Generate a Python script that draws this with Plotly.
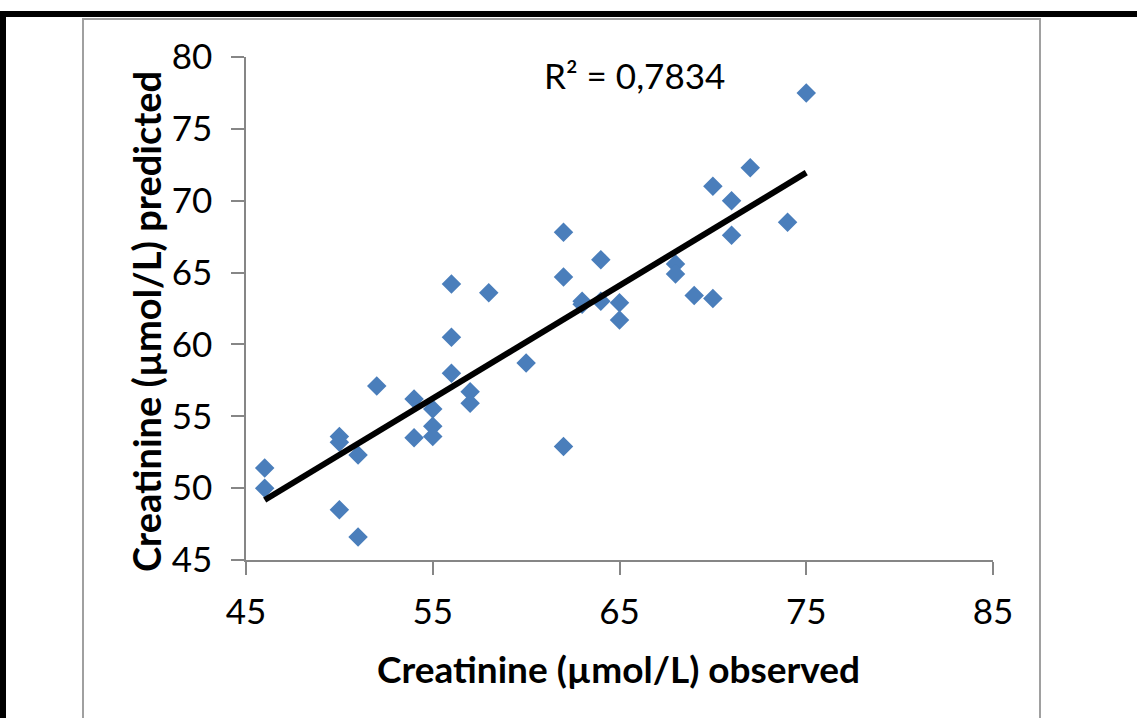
import numpy as np
import plotly.graph_objects as go

# ---- data ----
observed = [46, 46, 50, 50, 50, 51, 51, 52, 54, 54, 55, 55, 55, 56, 56, 56, 57, 57, 58, 60,
            62, 62, 62, 63, 63, 64, 64, 65, 65, 68, 68, 69, 70, 70, 71, 71, 72, 74, 75]
predicted = [51.4, 50.0, 53.6, 53.2, 48.5, 52.3, 46.6, 57.1, 56.2, 53.5, 55.5, 54.3, 53.6, 64.2, 60.5, 58.0, 56.7, 55.9, 63.6, 58.7,
             67.8, 64.7, 52.9, 63.0, 62.8, 65.9, 63.0, 62.9, 61.7, 65.6, 64.9, 63.4, 71.0, 63.2, 70.0, 67.6, 72.3, 68.5, 77.5]
r2_label = "R² = 0,7834"
x_title = "Creatinine (µmol/L) observed"
y_title = "Creatinine (µmol/L) predicted"
x_range = [45, 85]
y_range = [45, 80]

# linear trend line (least squares, like the spreadsheet trendline)
slope, intercept = np.polyfit(observed, predicted, 1)
trend_x = [min(observed), max(observed)]
trend_y = [slope * v + intercept for v in trend_x]

W, H = 1137, 718
ML, MR, MT, MB = 246, 144, 57, 158
PW, PH = W - ML - MR, H - MT - MB


def px(x):
    return (x - ML) / PW


def py(y):
    return (H - MB - y) / PH


FONT = "Lato"
AXC = "#868686"

fig = go.Figure()
fig.add_trace(go.Scatter(
    x=observed, y=predicted, mode="markers",
    marker=dict(symbol="diamond", size=15, color="#4A7EBB", line=dict(width=0)),
    showlegend=False, hoverinfo="skip"))
fig.add_trace(go.Scatter(
    x=trend_x, y=trend_y, mode="lines",
    line=dict(color="black", width=6),
    showlegend=False, hoverinfo="skip"))

axis_common = dict(
    showgrid=False, zeroline=False, showline=True, linecolor=AXC, linewidth=1.5,
    ticks="outside", ticklen=13, tickcolor=AXC, tickwidth=1.5,
    tickfont=dict(family=FONT, size=35, color="black"))

fig.update_xaxes(range=x_range, tick0=45, dtick=10, ticklabelstandoff=7, **axis_common)
fig.update_yaxes(range=y_range, tick0=45, dtick=5, ticklabelstandoff=12, **axis_common)

shapes = [
    # outer chart frame
    dict(type="rect", xref="paper", yref="paper", x0=px(83), x1=px(1040), y0=py(730), y1=py(19),
         line=dict(color="#a0a0a0", width=2), fillcolor="rgba(0,0,0,0)", layer="below"),
    # black page bars
    dict(type="rect", xref="paper", yref="paper", x0=px(-5), x1=px(1145), y0=py(17), y1=py(11),
         line=dict(width=0), fillcolor="black"),
    dict(type="rect", xref="paper", yref="paper", x0=px(-5), x1=px(6), y0=py(730), y1=py(11),
         line=dict(width=0), fillcolor="black"),
]

annotations = [
    dict(text=r2_label, xref="paper", yref="paper", x=px(634), y=py(75), showarrow=False,
         xanchor="center", yanchor="middle", font=dict(family=FONT, size=35, color="black")),
    dict(text="<b>" + x_title + "</b>", xref="paper", yref="paper", x=px(618), y=py(668),
         showarrow=False, xanchor="center", yanchor="middle",
         font=dict(family=FONT, size=37, color="black")),
    dict(text="<b>" + y_title + "</b>", xref="paper", yref="paper", x=px(146), y=py(322),
         showarrow=False, xanchor="center", yanchor="middle", textangle=-90,
         font=dict(family=FONT, size=38, color="black")),
]

fig.update_layout(
    width=W, height=H, margin=dict(l=ML, r=MR, t=MT, b=MB),
    paper_bgcolor="white", plot_bgcolor="white",
    shapes=shapes, annotations=annotations, showlegend=False)

fig.write_html("out.html", config={"displayModeBar": False},
               post_script="document.body.style.margin='0';document.body.style.overflow='hidden';")
